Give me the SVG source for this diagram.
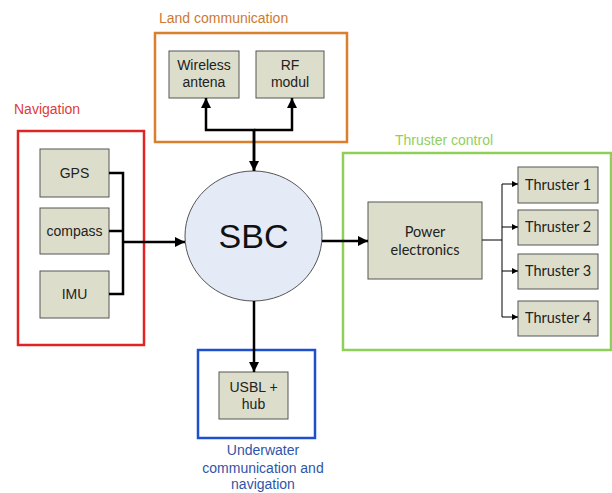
<svg xmlns="http://www.w3.org/2000/svg" width="612" height="493" viewBox="0 0 612 493">
<defs>
<marker id="ah" viewBox="0 0 10 10" refX="10" refY="5" markerWidth="4.8" markerHeight="4" orient="auto" markerUnits="strokeWidth"><path d="M0,0 L10,5 L0,10 z" fill="#000"/></marker>
<marker id="ahs" viewBox="0 0 10 10" refX="10" refY="5" markerWidth="9" markerHeight="6" orient="auto" markerUnits="strokeWidth"><path d="M0,0 L10,5 L0,10 z" fill="#000"/></marker>
</defs>
<style>
.grp{fill:none;stroke-width:2.5}
.box{fill:#dcdecb;stroke:#555;stroke-width:1}
.t{font-family:"Liberation Sans",Arial,sans-serif;font-size:14px;fill:#222;text-anchor:middle}
.c{font-family:Lato,"Liberation Sans",sans-serif;font-size:14.5px;fill:#222;text-anchor:middle}
.lbl{font-family:"Liberation Sans",Arial,sans-serif;font-size:14px}
.thick{fill:none;stroke:#000;stroke-width:2.5}
.thin{fill:none;stroke:#000;stroke-width:1}
</style>
<rect width="612" height="493" fill="#fff"/>
<g id="navigation">
<rect class="grp" x="18" y="131" width="126" height="214" stroke="#e02424"/>
<text class="lbl" x="14" y="114" fill="#e03a3a">Navigation</text>
</g>
<g id="gps"><rect class="box" x="40" y="149" width="69" height="48"/><text class="t" x="74.5" y="178">GPS</text></g>
<g id="compass"><rect class="box" x="40" y="208" width="69" height="46"/><text class="t" x="74.5" y="236">compass</text></g>
<g id="imu"><rect class="box" x="40" y="271" width="69" height="47"/><text class="t" x="74.5" y="299">IMU</text></g>
<g id="land">
<rect class="grp" x="155" y="33" width="192" height="109" stroke="#d8802c"/>
<text class="lbl" x="159" y="23" fill="#cc7a33">Land communication</text>
</g>
<g id="wireless"><rect class="box" x="169" y="51" width="70" height="47"/><text class="t" x="204" y="70">Wireless</text><text class="t" x="204" y="87">antena</text></g>
<g id="rf"><rect class="box" x="256" y="51" width="68" height="47"/><text class="t" x="290" y="70">RF</text><text class="t" x="290" y="87">modul</text></g>
<g id="sbc">
<ellipse cx="253.5" cy="236" rx="68.5" ry="65" fill="#e4eaf6" stroke="#555" stroke-width="1"/>
<text x="253.5" y="248" font-family="'Liberation Sans',Arial,sans-serif" font-size="34" fill="#111" text-anchor="middle">SBC</text>
</g>
<g id="thruster-control">
<rect class="grp" x="343" y="153" width="268" height="197" stroke="#8fce57"/>
<text class="lbl" x="395" y="145" fill="#92cf5c">Thruster control</text>
</g>
<g id="power"><rect class="box" x="368" y="202" width="114" height="77"/><text class="c" x="425" y="237">Power</text><text class="c" x="425" y="255">electronics</text></g>
<g id="thruster1"><rect class="box" x="518" y="167" width="80" height="36"/><text class="c" x="558" y="190">Thruster 1</text></g>
<g id="thruster2"><rect class="box" x="518" y="210" width="80" height="35"/><text class="c" x="558" y="232">Thruster 2</text></g>
<g id="thruster3"><rect class="box" x="518" y="254" width="80" height="35"/><text class="c" x="558" y="276">Thruster 3</text></g>
<g id="thruster4"><rect class="box" x="518" y="301" width="80" height="35"/><text class="c" x="558" y="323">Thruster 4</text></g>
<g id="underwater">
<rect class="grp" x="198" y="350" width="117" height="88" stroke="#1f4fcc"/>
<text class="lbl" x="263" y="455" fill="#2f55a8" text-anchor="middle">Underwater</text>
<text class="lbl" x="263" y="473" fill="#2f55a8" text-anchor="middle">communication and</text>
<text class="lbl" x="263" y="489" fill="#2f55a8" text-anchor="middle">navigation</text>
</g>
<g id="usbl"><rect class="box" x="219" y="372" width="69" height="47"/><text class="t" x="253.5" y="392">USBL +</text><text class="t" x="253.5" y="409">hub</text></g>
<g id="connectors">
<path class="thick" d="M109,173 H123 V294 H109 M109,231 H123"/>
<path class="thick" d="M123,242 H185" marker-end="url(#ah)"/>
<path class="thick" d="M254,171 V130 H206 V98" marker-end="url(#ah)"/>
<path class="thick" d="M254,130 H292 V98" marker-end="url(#ah)"/>
<path class="thick" d="M254,130 V171" marker-end="url(#ah)"/>
<path class="thick" d="M322,241 H368" marker-end="url(#ah)"/>
<path class="thick" d="M254,301 V372" marker-end="url(#ah)"/>
<path class="thin" d="M482,240 H502 M502,184 V317"/>
<path class="thin" d="M502,184 H518" marker-end="url(#ahs)"/>
<path class="thin" d="M502,227 H518" marker-end="url(#ahs)"/>
<path class="thin" d="M502,271 H518" marker-end="url(#ahs)"/>
<path class="thin" d="M502,317 H518" marker-end="url(#ahs)"/>
</g>
</svg>
